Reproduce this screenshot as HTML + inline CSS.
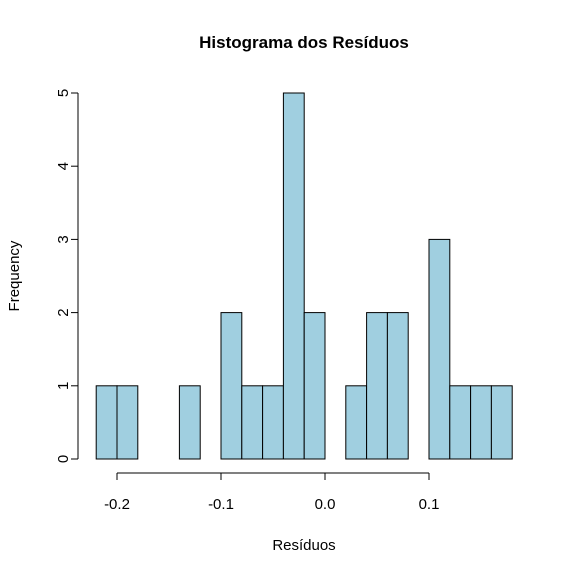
<!DOCTYPE html>
<html><head><meta charset="utf-8"><style>
body{margin:0;background:#fff;}
svg{display:block;font-family:"Liberation Sans",Arial,sans-serif;}
</style></head><body>
<svg id="chart" width="571" height="572" viewBox="0 0 571 572">
<text x="304" y="48" text-anchor="middle" font-size="17" font-weight="bold">Histograma dos Resíduos</text>
<text x="304" y="550" text-anchor="middle" font-size="15">Resíduos</text>
<text x="0" y="0" transform="translate(19,276) rotate(-90)" text-anchor="middle" font-size="15">Frequency</text>
<g id="bars"></g>
<g id="xaxis"></g>
<g id="yaxis"></g>
</svg>
<script>
const binStart = -0.22;
const binWidth = 0.02;
const counts = [1,1,0,0,1,0,2,1,1,5,2,0,1,2,2,0,3,1,1,1];
const xTicks = [-0.2,-0.1,0.0,0.1];
const xTickLabels = ["-0.2","-0.1","0.0","0.1"];
const yTicks = [0,1,2,3,4,5];
const ns="http://www.w3.org/2000/svg";
function X(v){return 117+(v+0.2)*1040;}
function Y(v){return 459-v*73.2;}
function mk(t,a,p){const e=document.createElementNS(ns,t);for(const k in a)e.setAttribute(k,a[k]);p.appendChild(e);return e;}
const bars=document.getElementById('bars');
counts.forEach((c,i)=>{
  if(c<=0)return;
  const x0=X(binStart+i*binWidth),x1=X(binStart+(i+1)*binWidth);
  const r=mk('rect',{x:x0,y:Y(c),width:x1-x0,height:Y(0)-Y(c),fill:'#a0cfe0',stroke:'#000','stroke-width':1},bars);
  
  
});
const xa=document.getElementById('xaxis');
mk('line',{x1:X(xTicks[0]),x2:X(xTicks[xTicks.length-1]),y1:473,y2:473,stroke:'#000'},xa);
xTicks.forEach((t,i)=>{
  mk('line',{x1:X(t),x2:X(t),y1:473,y2:480,stroke:'#000'},xa);
  const tx=mk('text',{x:X(t),y:509,'text-anchor':'middle','font-size':15},xa);
  tx.textContent=xTickLabels[i];
  
  
});
const ya=document.getElementById('yaxis');
mk('line',{x1:78,x2:78,y1:Y(yTicks[0]),y2:Y(yTicks[yTicks.length-1]),stroke:'#000'},ya);
yTicks.forEach(t=>{
  mk('line',{x1:71,x2:78,y1:Y(t),y2:Y(t),stroke:'#000'},ya);
  const tx=mk('text',{x:0,y:0,transform:`translate(68,${Y(t)}) rotate(-90)`,'text-anchor':'middle','font-size':15},ya);
  tx.textContent=String(t);
  
  
});
</script>
</body></html>
